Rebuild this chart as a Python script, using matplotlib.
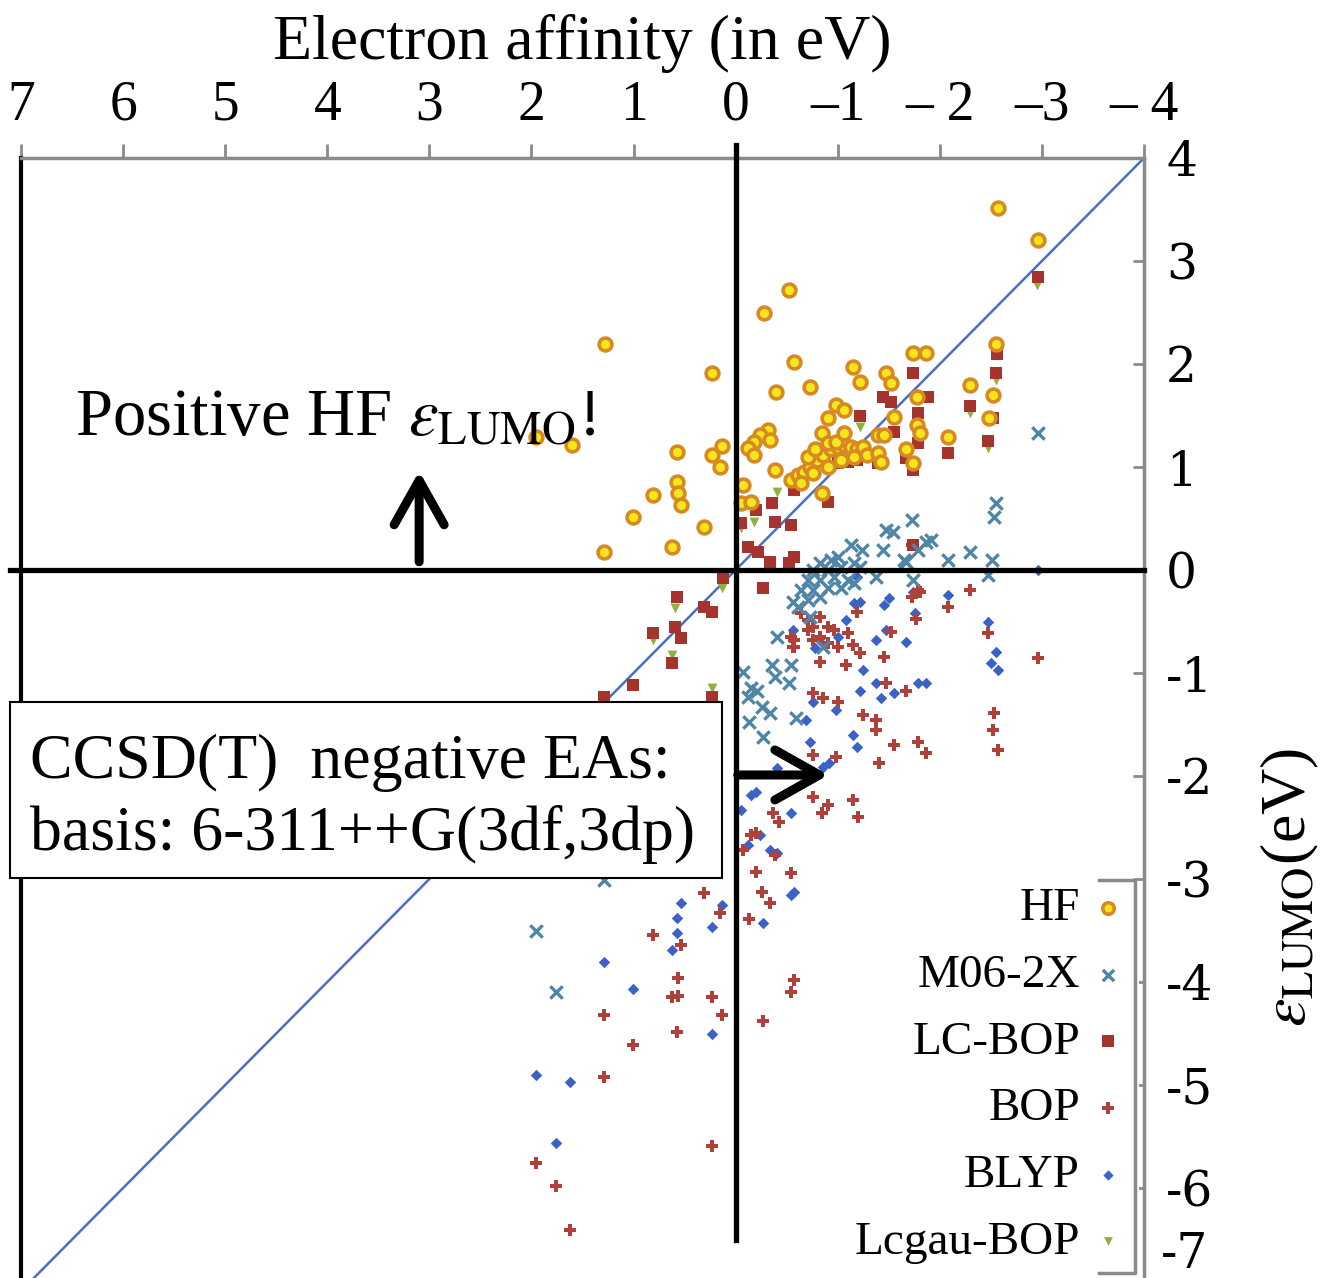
import numpy as np
import matplotlib.pyplot as plt
from matplotlib.patches import Rectangle
from matplotlib.lines import Line2D
from matplotlib.transforms import blended_transform_factory

plt.rcParams['font.family'] = ['Liberation Serif', 'DejaVu Serif']
plt.rcParams['mathtext.fontset'] = 'stix'

# CCSD(T) electron affinity (eV) vs. LUMO energy (eV) for each method
hf_ea = [-2.57, -2.96, -0.52, -0.28, 1.28, 0.23, -0.57, -1.15, -1.22, -1.74,
         -1.86, -2.55, -1.47, -1.52, -0.40, -0.73, -2.30, -2.52, -1.78, -0.98,
         -1.06, -0.90, -1.55, -1.78, -1.81, -2.48, -2.08, -0.85, -1.39, -1.45,
         -1.67, -1.74, 0.57, 0.23, 0.13, 0.15, -0.32, -0.24, -0.18, -0.12,
         -0.18, -0.34, 0.57, 0.56, 0.54, 0.81, 1.01, 0.31, 1.29, 0.62,
         -0.39, -0.85, -0.07, -0.05, -0.15, 1.60, 1.96,
         -0.54, -0.61, -0.67, -0.73, -0.80, -0.86, -0.93, -1.00, -1.06, -1.13,
         -1.19, -1.25, -0.71, -0.78, -0.90, -0.98, -0.64, -0.76, -0.90, -1.03,
         -1.16, -1.29, -1.39, -1.42, -1.06]
hf_lumo = [3.51, 3.20, 2.72, 2.50, 2.19, 1.91, 2.02, 1.97, 1.83, 2.11,
           2.11, 2.19, 1.91, 1.82, 1.73, 1.78, 1.80, 1.70, 1.68, 1.60,
           1.55, 1.48, 1.49, 1.41, 1.33, 1.48, 1.29, 1.33, 1.31, 1.31,
           1.17, 1.04, 1.15, 1.12, 1.20, 1.00, 1.36, 1.31, 1.24, 1.18,
           1.12, 1.26, 0.85, 0.75, 0.63, 0.73, 0.51, 0.42, 0.17, 0.22,
           0.97, 0.75, 0.83, 0.65, 0.66, 1.21, 1.29,
           0.87, 0.92, 0.95, 1.00, 1.07, 1.12, 1.17, 1.19, 1.21, 1.19,
           1.17, 1.19, 1.10, 1.17, 1.23, 1.24, 0.84, 0.94, 1.00, 1.07,
           1.10, 1.12, 1.14, 1.05, 1.33]

m06_ea = [-2.96, -2.55, -2.53, -1.73, -1.47, -1.54, -1.86, -1.79, -1.44, -1.24,
          -1.13, -2.08, -2.30, -2.51, -2.47, -1.91, -1.65, -1.67,
          -0.83, -0.93, -1.00, -0.76, -0.90, -1.03, -1.16, -1.22, -0.71, -0.83,
          -0.96, -1.10, -0.64, -0.76, -0.90, -1.03, -1.16, -0.71, -0.83, -0.61,
          -0.56, -1.37, -1.74, -0.41, -0.86, -0.73, -0.36, -0.54, -0.39, -0.52,
          -0.07, -0.15, -0.21, -0.12, -0.26, -0.34, -0.13, -0.59, -0.27,
          1.29, 1.96, 1.76]
m06_lumo = [1.33, 0.65, 0.51, 0.49, 0.39, 0.37, 0.27, 0.19, 0.19, 0.19,
            0.24, 0.10, 0.17, 0.10, -0.05, 0.29, 0.10, 0.08,
            0.07, 0.10, 0.13, 0.00, 0.00, 0.03, 0.07, 0.03, -0.10, -0.10,
            -0.07, -0.10, -0.19, -0.19, -0.17, -0.17, -0.13, -0.29, -0.26, -0.36,
            -0.31, -0.07, -0.10, -0.65, -0.75, -0.46, -0.92, -0.92, -1.04, -1.10,
            -0.99, -1.15, -1.17, -1.23, -1.33, -1.39, -1.48, -1.44, -1.62,
            -3.01, -3.50, -4.10]

lcbop_ea = [-2.96, -2.56, -2.55, -2.30, -2.52, -2.47, -2.08, -1.74, -1.44, -1.52,
            -1.22, -1.88, -1.79, -1.55, -1.79, -1.67, -1.74, -0.57, -0.36, -0.20,
            -0.90, -0.39, -0.54, -0.05, -1.00, -1.10, -1.19, -1.39, -0.12, -0.22,
            -0.34, -0.57, -0.52, -1.74, -0.27, 0.57, 0.31, 0.23, 0.59, 0.54,
            0.81, 0.62, 1.01, 1.29, 0.23, 0.12]
lcbop_lumo = [2.84, 2.10, 1.91, 1.59, 1.48, 1.25, 1.14, 1.91, 1.68, 1.63,
              1.50, 1.68, 1.52, 1.34, 1.23, 1.09, 0.97, 0.78, 0.65, 0.58,
              0.66, 0.47, 0.44, 0.46, 1.04, 1.05, 1.07, 1.04, 0.22, 0.17,
              0.08, 0.13, 0.07, 0.24, -0.17, -0.26, -0.36, -0.41, -0.55, -0.66,
              -0.61, -0.90, -1.12, -1.23, -1.23, -0.08]

bop_ea = [-1.73, -1.73, -1.81, -1.77, -2.08, -2.30, -1.19,
          -0.64, -0.71, -0.76, -0.71, -0.83, -0.90, -0.83, -0.96, -0.76, -0.90,
          -1.00, -0.57, -0.56, -1.10, -1.15, -1.22,
          -1.45, -1.52, -0.83, -1.08, -1.47, -1.67, -0.76, -0.86, -1.00, -1.25,
          -1.37, -1.37, -1.79, -2.47, -2.96, -2.53, -2.52, -2.57, -1.79, -1.86,
          -1.55, -1.40, -0.98, -0.76, -1.15, -1.20, -0.76, -0.90, -0.85, -0.37,
          -0.42, -0.15, -0.20, -0.07, -0.54, -0.57,
          0.31, 0.15, 0.81, 0.54, 0.56, 0.62, 0.56, 0.23, 0.13, 1.29,
          0.57, 1.01, 1.29, 0.23, 1.96, 1.76, 1.62,
          -0.20, -0.26, -0.34, -0.54, -0.13, -0.54, -0.57, -0.27, -0.39]
bop_lumo = [0.24, -0.26, -0.21, -0.48, -0.36, -0.19, -0.41,
            -0.42, -0.49, -0.55, -0.58, -0.46, -0.55, -0.65, -0.58, -0.68, -0.71,
            -0.75, -0.68, -0.75, -0.61, -0.73, -0.81,
            -0.84, -0.60, -0.89, -0.92, -1.10, -1.17, -1.19, -1.24, -1.28, -1.41,
            -1.46, -1.55, -0.19, -0.61, -0.85, -1.39, -1.55, -1.75, -1.67, -1.78,
            -1.70, -1.87, -1.82, -1.80, -2.23, -2.40, -2.20, -2.28, -2.36, -2.36,
            -2.45, -2.57, -2.55, -2.72, -0.65, -0.75,
            -3.14, -3.33, -3.54, -3.64, -3.96, -4.15, -4.14, -4.15, -4.32, -4.32,
            -4.49, -4.61, -4.92, -5.59, -5.76, -5.98, -6.41,
            -2.93, -3.13, -3.23, -2.94, -3.39, -4.10, -3.98, -4.38, -2.77]

blyp_ea = [-1.19, -1.50, -1.45, -1.22, -1.16, -1.08, -0.56, -1.00, -1.37, -1.47,
           -1.67, -0.78, -0.83, -1.25, -1.37, -1.22, -1.55, -1.42, -1.79, -1.86,
           -0.76, -0.98, -0.69, -1.74, -2.08, -1.76, -2.47, -2.55, -2.50, -2.57,
           -2.96, -1.15, -1.19, -0.73, -0.86, -0.91, -0.41, -0.15, -0.20, -0.54,
           -0.34, -0.41, -0.05, 0.54, 0.57, 0.57, 0.62, 0.23, 0.13, 1.29,
           1.01, 0.23, 1.96, 1.62, 1.76, -0.27, -0.54, -0.57, -0.24, -0.12]
blyp_lumo = [-0.07, -0.27, -0.34, -0.31, -0.32, -0.49, -0.58, -0.65, -0.68, -0.58,
             -0.70, -0.76, -0.66, -0.97, -1.10, -1.17, -1.19, -1.24, -1.10, -1.10,
             -1.28, -1.36, -1.46, -0.21, -0.24, -0.42, -0.50, -0.80, -0.90, -0.97,
             0.00, -1.60, -1.72, -1.67, -1.91, -1.87, -1.92, -2.18, -2.16, -2.36,
             -2.72, -2.75, -2.33, -3.23, -3.38, -3.52, -3.69, -3.47, -3.25, -3.81,
             -4.07, -4.50, -4.90, -4.97, -5.56, -3.43, -3.16, -3.13, -2.57, -2.67]

lcgau_ea = [0.23, 0.59, 0.62, 0.81, 0.13, -0.18, -0.41, -0.05, -2.95, -2.55,
            -2.30, -2.47, -1.22]
lcgau_lumo = [-1.15, -0.37, -0.83, -0.68, -0.17, 0.47, 0.76, 0.41, 2.77, 1.84,
              1.52, 1.18, 1.39]

# EA = -eps_LUMO reference line
ea_line = np.array([7.0, -4.0])

x_ticks = [7, 6, 5, 4, 3, 2, 1, 0, -1, -2, -3, -4]
x_ticklabels = ['7', '6', '5', '4', '3', '2', '1', '0', '\u20131', '\u2013 2', '\u20133', '\u2013 4']
y_ticks = [4, 3, 2, 1, 0, -1, -2, -3, -4, -5, -6, -7]

W, H = 1329, 1278
fig = plt.figure(figsize=(W / 100, H / 100), dpi=100)
ax = fig.add_axes([21 / W, (H - 1291) / H, 1123 / W, 1133 / H])
ax.set_xlim(7, -4)
ax.set_ylim(-7, 4)

ax.plot(ea_line, -ea_line, color='#4a6fc0', lw=1.8, zorder=2)

ax.scatter(lcgau_ea, lcgau_lumo, marker='v', s=50, color='#8db33a', lw=0, zorder=3, label='Lcgau-BOP')
ax.scatter(blyp_ea, blyp_lumo, marker='D', s=34, color='#3b62c4', lw=0, zorder=3, label='BLYP')
ax.scatter(bop_ea, bop_lumo, marker='P', s=85, color='#b0403a', lw=0, zorder=3, label='BOP')
ax.scatter(lcbop_ea, lcbop_lumo, marker='s', s=80, color='#a5342f', lw=0, zorder=3, label='LC-BOP')
ax.scatter(m06_ea, m06_lumo, marker='x', s=80, color='#4f86a6', lw=2.4, zorder=4, label='M06-2X')
ax.scatter(hf_ea, hf_lumo, marker='o', s=85, facecolor='#f7e51e', edgecolor='#d88a22', lw=2.6, zorder=4, label='HF')

# axes frame
ax.xaxis.tick_top()
ax.xaxis.set_label_position('top')
ax.set_xticks(x_ticks)
ax.set_xticklabels(x_ticklabels)
ax.tick_params(axis='x', direction='out', length=10, width=2, color='#8a8a8a', pad=9, labelsize=40)
ax.set_xlabel('Electron affinity (in eV)', fontsize=46, labelpad=15)

ax.yaxis.tick_right()
ax.yaxis.set_label_position('right')
ax.set_yticks(y_ticks)
# the bottom label would fall off the figure edge, so it is drawn separately below
ax.set_yticklabels([str(t) if t != -7 else '' for t in y_ticks], fontfamily='DejaVu Serif')
ax.tick_params(axis='y', direction='in', length=8, width=2, color='#8a8a8a', pad=16, labelsize=35)
ax.annotate('-7', xy=(1.0, -7), xycoords=blended_transform_factory(ax.transAxes, ax.transData),
            xytext=(12, 9), textcoords='offset points', fontsize=35, fontfamily='DejaVu Serif',
            ha='left', va='bottom', annotation_clip=False)
ax.set_ylabel(r'$\varepsilon_{\rm LUMO}$(eV)', fontsize=46, rotation=90)
ax.yaxis.label.set_va('center')
ax.yaxis.label.set_ha('center')
ax.yaxis.set_label_coords(1.130, 0.356)

ax.spines['left'].set_color('black')
ax.spines['left'].set_linewidth(3)
for side in ['top', 'right', 'bottom']:
    ax.spines[side].set_color('#8a8a8a')
    ax.spines[side].set_linewidth(2.5)

# zero lines
ax.axvline(0, ymin=0.045, ymax=1.0115, color='black', lw=3.8, zorder=5, clip_on=False)
ax.axhline(0, xmin=-0.0098, xmax=1.0, color='black', lw=3.8, zorder=5, clip_on=False)

# annotations
ax.text(0.048, 0.7555, r'Positive HF $\varepsilon_{\rm LUMO}$!', transform=ax.transAxes,
        fontsize=48, va='baseline', ha='left', zorder=7)
arrow_kw = dict(arrowstyle='->,head_length=0.8,head_width=0.45', lw=6.5, color='black',
                shrinkA=0, shrinkB=0, mutation_scale=40, capstyle='round', joinstyle='round')
ax.annotate('', xy=(3.1, 0.96), xytext=(3.1, 0.08), arrowprops=arrow_kw, zorder=7)
ax.annotate('', xy=(-0.91, -1.99), xytext=(-0.02, -1.99), arrowprops=arrow_kw, zorder=7)

box = Rectangle((-0.0098, 0.3645), 0.634, 0.1553, transform=ax.transAxes, facecolor='white',
                edgecolor='black', lw=1.5, zorder=6, clip_on=False)
ax.add_patch(box)
ax.text(0.008, 0.4528, 'CCSD(T)  negative EAs:', transform=ax.transAxes, fontsize=46,
        va='baseline', ha='left', zorder=7)
ax.text(0.008, 0.389, 'basis: 6-311++G(3df,3dp)', transform=ax.transAxes, fontsize=46,
        va='baseline', ha='left', zorder=7)

# legend: labels left of the markers
handles, labels = ax.get_legend_handles_labels()
order = ['HF', 'M06-2X', 'LC-BOP', 'BOP', 'BLYP', 'Lcgau-BOP']
hmap = dict(zip(labels, handles))
leg = fig.legend([hmap[k] for k in order], order, loc='upper right',
                 bbox_to_anchor=(1139 / W, 1 - 878 / H), markerfirst=False,
                 fontsize=34, frameon=True, facecolor='white', edgecolor='none', framealpha=1,
                 borderpad=0.2, labelspacing=0.5, handletextpad=0.15, handlelength=0.9,
                 markerscale=0.9, borderaxespad=0)

bracket = Line2D([1099 / W, 1135 / W, 1135 / W, 1099 / W],
                 [1 - 880 / H, 1 - 880 / H, 1 - 1273 / H, 1 - 1273 / H],
                 transform=fig.transFigure, color='#8a8a8a', lw=2.5, zorder=10)
fig.add_artist(bracket)

fig.savefig('out.png', dpi=100)
